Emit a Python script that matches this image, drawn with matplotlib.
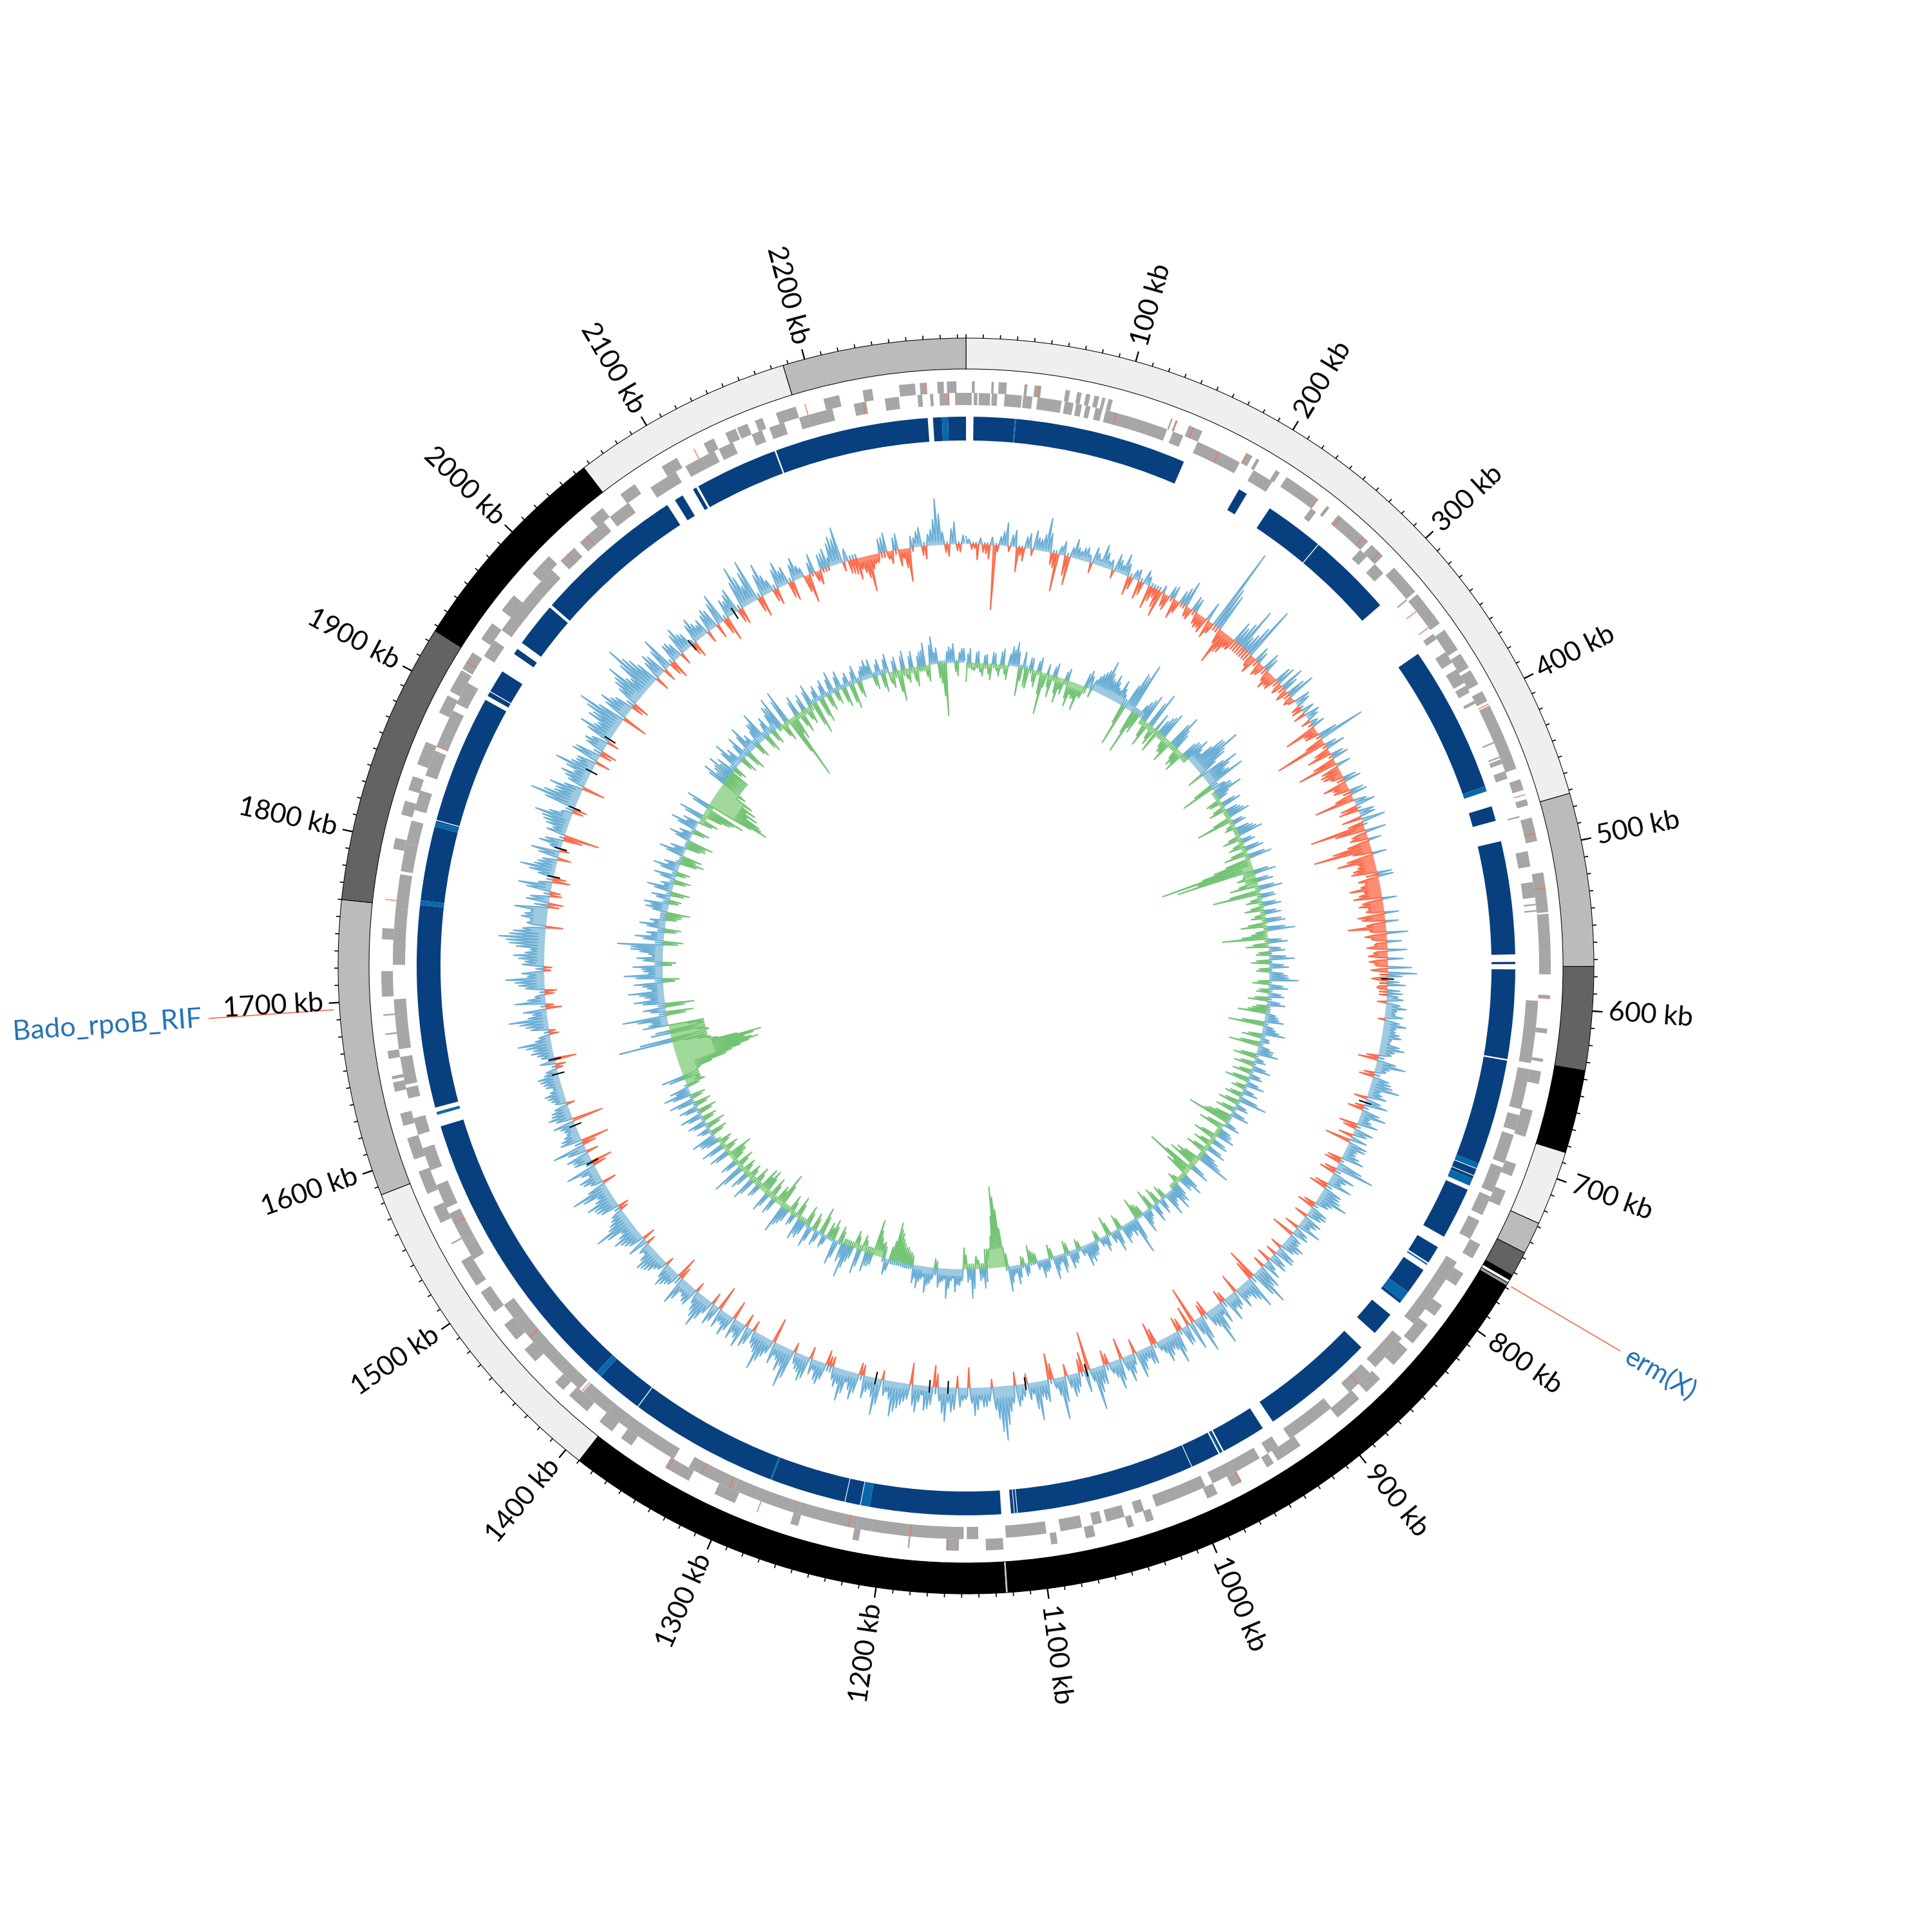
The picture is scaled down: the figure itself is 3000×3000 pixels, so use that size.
import numpy as np
import matplotlib
matplotlib.use("Agg")
import matplotlib.pyplot as plt

genome_kb = 2295

# contig bands on the outer ring (kb)
band_start = [0, 472, 574, 635, 684, 728, 747, 762, 765, 767, 769, 1123, 1124.5, 1390, 1585, 1760, 1927, 2056, 2187]
band_end = [472, 574, 635, 684, 728, 747, 762, 765, 767, 769, 1123, 1124.5, 1390, 1585, 1760, 1927, 2056, 2187, 2295]
band_grey = ["#efefef", "#bbbbbb", "#636363", "#000000", "#efefef", "#bbbbbb", "#636363", "#000000", "#ffffff",
             "#999999", "#000000", "#cccccc", "#000000", "#efefef", "#bbbbbb", "#636363", "#000000", "#efefef", "#bbbbbb"]

tick_labels = list(range(100, 2201, 100))

# gene blocks, outer strand (kb)
genes_out = [(3.7,5.5),(16,17.5),(20.5,25.6),(36.7,38.5),(43,47.3),(62.6,65.5),(70,72.8),(75.6,78.4),(81,84),(86,88),(90,92.7),
             (131,132),(134,135),(143,152),(183,187),(190,192),(204,207),(212,236),(243,245),(252,277),(280,290),(300,320),
             (322,345),(350,365),(368,378),(380,390),(395,402),(405,448),(455,462),(468,472),(480,495),(515,525),(525,540),
             (541,579),(592,594),(613,616),(632,634),(640,648),(665,682),(700,708),(718,728),(755,765),(776,785),(800,808),
             (815,830),(835,848),(860,872),(878,896),(925,935),(935,942),(945,950),(968,975),(985,992),(1028,1033),(1041,1045),
             (1066,1072),(1090,1094),(1124,1135),(1152,1160),(1183,1184),(1215,1219),(1254,1259),(1296,1310),(1328,1345),
             (1370,1378),(1385,1395),(1405,1420),(1425,1432),(1450,1460),(1468,1480),(1490,1505),(1510,1528),(1540,1541),
             (1555,1566),(1575,1590),(1598,1612),(1620,1628),(1642,1648),(1650,1652),(1663,1668),(1678,1679),(1690,1691),
             (1702,1718),(1738,1745),(1795,1802),(1817,1826),(1833,1842),(1850,1865),(1885,1897),(1900,1915),(1916,1928),
             (1938,1950),(1960,1972),(1990,2005),(2040,2050),(2064,2075),(2095,2106),(2125,2132),(2140,2147),(2148,2155),
             (2160,2165),(2174,2180),(2180,2187),(2205,2215),(2230,2236),(2253,2263),(2266,2270),(2277,2281),(2283,2289)]

# gene blocks, inner strand (kb)
genes_in = [(0,3.7),(5,7.3),(8.2,15.5),(16.5,20),(24.7,35.7),(36.6,42.5),(45.8,61.3),(63.4,69),(70.8,74.5),(77,80),(83.4,87.8),
            (90,131),(135,142),(152,182),(192,206),(236,240),(277,283),(290,298),(320,321),(348,352),(362,370),(375,385),
            (387,392),(398,400),(427,428),(437,438),(439,442),(447,452),(477,478),(500,510),(520,530),(534,535),(538,539),
            (596,636),(640,666),(670,680),(683,702),(705,722),(725,738),(742,755),(772,792),(792,808),(805,820),(832,846),
            (845,857),(862,880),(895,928),(937,945),(951,970),(970,985),(990,1024),(1032,1038),(1045,1057),(1060,1066),
            (1073,1087),(1096,1122),(1140,1147),(1149,1208),(1208,1218),(1218,1242),(1240,1256),(1256,1285),(1285,1300),
            (1300,1322),(1320,1332),(1343,1362),(1362,1382),(1382,1395),(1395,1415),(1418,1435),(1435,1450),(1448,1458),
            (1455,1478),(1478,1490),(1525,1538),(1538,1558),(1562,1578),(1588,1603),(1612,1623),(1636,1643),(1645,1663),
            (1668,1690),(1690,1700),(1722,1735),(1732,1758),(1758,1780),(1782,1800),(1800,1815),(1822,1835),(1845,1862),
            (1865,1890),(1895,1910),(1930,1942),(1950,1968),(1965,1982),(1982,2000),(2008,2020),(2025,2045),(2050,2065),
            (2082,2088),(2088,2101),(2108,2120),(2120,2129),(2132,2142),(2155,2162),(2167,2177),(2187,2193),(2193,2209),
            (2223,2231),(2243,2252),(2264,2267),(2272,2274),(2278,2284),(2288,2295)]

# resistance / flagged genes (kb)
red_out = [46, 135, 146, 183, 236, 254, 273, 287, 404, 465, 490, 525, 594, 969, 1159, 1281, 1343, 1763, 1921, 2118, 2193, 2270]
red_in = [97, 167, 330, 343, 872, 1140, 1183, 1223, 1303, 1323, 1416, 1464, 1551, 1865, 2014, 2031, 2229, 2284]

# BLAST hit blocks (kb)
hits_dark = [(5,32.6),(33.4,149),(190,196),(214,254),(254.6,312),(353,452),(466,476),(490,566),(571,572.5),(576,636),(637,708),
             (712,716.5),(717,719),(727,762),(770,782),(788,806),(813,815),(825,841),(854,931),(939,969),(970,972),
             (973,992.5),(993,1113),(1113.5,1115),(1115.5,1117.5),(1124,1212),(1218.5,1228.5),(1229,1279.5),(1280.5,1381),
             (1381.6,1413),(1417,1613),(1626,1762),(1765,1815),(1818,1819),(1819.6,1906),(1909,1912),(1912.6,1928),
             (1942,1946),(1951,1981),(1983,2085),(2091,2097),(2105,2107.5),(2109,2165),(2166,2269.5),(2273,2279),(2283,2295)]
hits_mid = [(32.6,33.4),(452,455.5),(708,711.5),(719,724),(783,784),(806,813),(971,972),(1212,1218),(1279.5,1280.5),
            (1413,1417),(1621,1623),(1762,1765),(1815,1818),(2279,2283)]

# track 1: main spike every 5 kb, radial offset from its baseline
track1 = [12,-8,-24,-12,-22,-100,14,36,18,-38,
          -20,24,30,18,53,-18,-58,22,-44,30,
          14,22,-15,18,35,12,-12,20,33,-29,
          15,-28,22,-36,-14,-41,-20,18,-31,20,
          41,-18,22,-22,-25,-28,133,60,-56,-32,
          -20,28,68,30,85,-28,18,-18,22,-28,
          -22,30,38,-20,44,-10,22,-16,-19,18,
          12,-51,-22,74,-82,30,-38,26,-63,-28,
          -30,20,-38,-25,26,-63,31,-30,24,37,
          -86,32,-28,-35,-91,22,-58,-28,-40,24,
          -22,-48,-35,22,-38,-28,-42,20,-59,33,
          -24,-20,30,-30,-29,37,45,-25,28,20,
          18,-14,32,16,-10,35,20,30,14,38,
          20,-30,46,18,-22,30,46,22,-20,36,
          -24,40,20,-28,30,-22,-40,29,18,35,
          -25,61,-24,25,39,-27,30,48,22,-26,
          30,-20,25,38,22,-36,20,28,-18,32,
          25,-22,30,38,60,-48,52,30,22,-29,
          28,40,-20,18,62,25,-18,57,-58,-30,
          30,-22,49,22,38,15,-35,28,20,42,
          18,41,-32,46,18,-22,28,66,-60,-30,
          22,35,-18,66,16,-41,30,60,18,-15,
          25,-20,40,84,50,-12,30,20,43,-31,
          20,-18,38,53,22,-33,35,15,42,-33,
          28,40,54,18,-14,57,20,35,-18,42,
          18,49,30,-15,-22,35,16,-18,40,25,
          -14,62,40,20,-38,30,55,25,-16,32,
          38,20,-29,35,18,-38,34,22,51,30,
          -15,28,18,45,-33,25,35,-12,20,32,
          38,15,-14,-20,30,42,22,61,30,20,
          -16,35,45,22,59,-21,30,15,48,-32,
          28,-18,52,-43,30,18,24,-48,36,28,
          -12,22,30,14,26,33,18,-15,-34,25,
          30,52,18,-10,35,60,22,-24,48,16,
          -18,40,60,35,-12,30,48,22,55,72,
          50,-26,25,35,52,-22,30,-15,52,-27,
          25,55,30,-20,45,18,28,-55,22,40,
          57,18,-20,75,40,52,-35,35,25,60,
          30,-22,40,-24,35,-18,55,30,45,75,
          -40,50,30,-25,45,65,30,82,50,-22,
          40,-20,53,-29,30,-18,42,25,-25,38,
          20,-18,35,-22,48,-38,25,40,-25,67,
          30,67,-32,51,20,-25,40,28,-30,35,
          15,-44,30,-22,25,15,45,57,20,-22,
          -33,-25,-56,-15,22,30,-20,25,-15,-52,
          15,30,-20,25,72,20,-18,35,-12]

# track 1: smaller spikes between the main ones
track1_mid = [8,-6,10,-14,12,-10,22,-8,26,-12,
              18,-10,20,26,30,-22,14,-30,16,18,
              20,12,26,10,24,16,28,14,20,-18,
              18,-20,14,-22,-28,12,-24,20,-20,28,
              -16,24,-18,-20,30,-18,70,-24,-34,-20,
              34,40,22,48,-20,24,-22,28,-18,-20,
              26,-18,24,30,-16,26,-14,20,24,-14,
              20,-22,30,-30,18,-24,20,-36,22,-32,
              -20,26,-24,22,-28,20,-26,24,-30,-24,
              -48,-24,20,-60,-30,-42,-26,-36,22,-32,
              -30,-26,-44,-32,-24,22,-36,-30,-26,-34,
              22,-32,-22,24,-20,-26,22,18,-16,24,
              26,22,18,28,24,20,26,16,30,24,
              -18,30,22,-16,26,34,18,30,24,-14,
              28,16,32,-20,22,26,30,18,26,-22,
              40,-18,36,20,-20,30,34,26,-18,28,
              24,30,18,-22,26,20,32,22,30,-16,
              30,18,-18,34,42,-30,36,22,34,24,
              22,-14,34,42,30,-22,38,26,44,28,
              -18,34,26,30,22,-24,30,18,32,-22,
              30,22,34,26,-16,30,40,20,34,-20,
              30,20,40,28,-24,34,24,42,26,20,
              34,28,60,70,36,22,30,34,24,18,
              30,34,24,40,-20,28,38,26,32,24,
              34,46,28,24,40,30,24,-16,30,28,
              36,24,20,-14,26,30,24,34,28,18,
              46,30,24,34,22,40,30,20,26,-20,
              26,32,24,20,30,26,-18,36,38,20,
              30,22,34,-18,22,30,24,16,28,34,
              26,20,32,24,34,30,44,36,24,-12,
              30,36,28,44,30,20,34,26,-20,28,
              36,30,-20,34,24,20,34,26,30,22,
              18,26,20,24,30,22,-10,24,20,34,
              40,24,-14,28,44,30,36,-12,28,-14,
              30,46,26,-10,34,40,30,44,60,56,
              36,30,40,26,-16,36,-18,38,22,-20,
              40,34,24,32,-14,36,-30,30,34,44,
              36,-16,50,56,40,30,28,44,40,36,
              30,44,-18,30,26,40,34,50,60,44,
              38,36,-18,34,50,36,56,60,36,30,
              34,36,-20,30,24,34,28,-18,30,26,
              26,28,30,36,-24,30,34,-20,44,48,
              50,-22,36,30,-18,30,24,-24,26,20,
              -26,18,-16,24,30,36,40,-14,-20,-24,
              -18,-34,-22,-14,24,-12,20,-26,-30,18,
              24,-14,18,40,48,-12,24,-10,14]

# track 1: thickness of the filled band, per 25 kb
track1_band = [3,3,5,5,8,6,6,-5,-6,-8,-14,-10,-10,6,-6,-5,-12,6,-14,-18,-20,-20,-16,-12,
               10,11,10,8,7,6,10,8,8,8,7,11,11,8,8,7,10,7,7,8,18,11,11,8,
               10,8,10,8,10,8,8,10,13,10,10,10,10,11,13,10,10,7,8,8,13,11,22,10,
               7,7,13,10,13,10,13,8,7,7,7,8,8,7,-5,7,-8,-6,6,4]

# track 2: main spike every 5 kb
track2 = [-29,22,-12,18,-20,14,-25,16,-18,25,
          -22,30,38,-44,25,-30,18,-25,22,-65,
          15,-35,20,-40,-25,18,-40,-25,-41,-20,
          28,-12,25,35,56,30,40,22,38,18,
          -65,63,82,-68,-30,30,45,-40,58,-30,
          -38,30,42,-25,-37,53,25,-30,-35,30,
          40,20,60,81,50,-25,62,35,62,-53,
          30,44,15,-20,30,-28,22,33,-59,20,
          -18,25,38,-30,20,-25,28,-38,36,-60,
          -147,-123,33,-30,25,-45,36,-75,22,-25,
          28,-30,25,-22,30,-40,43,-25,-71,30,
          -35,25,-20,39,-28,30,-20,28,45,-25,
          30,-18,25,-30,28,-22,-43,20,30,-55,
          20,36,-30,15,-47,25,34,-35,18,-30,
          30,-28,22,-35,30,-20,25,-25,46,-30,
          22,-28,30,-35,-65,25,-40,20,28,-38,
          25,-30,30,-35,28,52,-40,-48,30,-79,
          -40,35,22,-20,30,38,20,38,-20,25,
          -25,30,-30,18,35,-18,-32,58,25,20,
          30,-22,35,18,-29,25,14,-15,22,30,
          34,15,-14,22,28,-18,30,15,36,-20,
          20,28,14,-15,-27,20,-12,30,15,39,
          -30,-90,-126,-50,-15,30,18,-20,45,20,
          -33,25,35,18,46,20,30,-14,25,40,
          20,35,28,-18,-25,-30,-45,-60,-20,25,
          -25,-30,-56,20,30,-25,38,-28,25,52,
          30,-25,40,-30,-22,22,-41,25,-25,35,
          -30,28,34,-35,18,-30,25,44,-56,-30,
          25,-35,30,-40,-38,20,-30,36,-25,28,
          -25,49,-30,25,-28,-41,30,-25,35,-22,
          28,39,-25,22,-29,30,-22,35,-28,30,
          -25,40,-22,43,30,-30,-18,35,-30,-75,
          -100,-130,-110,-138,-70,-40,84,-60,30,-45,
          40,25,69,-42,35,-45,48,30,55,25,
          45,-25,60,30,46,-20,40,22,50,71,
          -30,45,28,-25,40,25,-22,-35,35,39,
          -18,30,-28,40,20,-25,35,-20,40,25,
          -36,-30,40,25,-30,-39,35,22,-25,42,
          25,-30,38,-45,-65,37,-101,-85,-77,-70,
          -60,-43,39,25,40,30,-20,45,28,-25,
          38,-30,45,25,-22,35,48,-27,30,-22,
          40,50,-30,52,-104,-40,30,-35,25,-28,
          34,-51,25,-38,28,-25,35,-20,30,-30,
          22,-38,28,-25,22,30,29,-20,25,-28,
          30,-25,22,-48,28,-22,25,-30,22,35,
          -25,43,25,-30,-81,25,30,-20,22]

# track 2: smaller spikes between the main ones
track2_mid = [14,-10,16,-14,12,-16,18,-10,20,-14,
              18,26,24,-20,-28,18,-18,16,-34,-22,
              -20,14,-26,-18,12,-28,-20,-24,-18,22,
              20,18,30,40,38,28,30,20,26,-30,
              40,60,-36,-24,22,36,-26,40,-22,28,
              22,34,-18,-24,38,32,-20,-24,24,30,
              26,40,60,54,30,40,46,40,-30,22,
              30,20,-24,22,-20,18,26,-30,16,-14,
              20,30,-20,16,-18,22,-26,26,-40,-80,
              -90,22,-20,18,-30,24,-48,20,-18,20,
              -20,18,-16,24,-28,28,-18,-40,20,-24,
              18,-16,26,-20,22,-16,22,30,-18,22,
              -14,20,-20,20,-16,-28,16,22,-34,16,
              26,-20,14,-30,18,24,-24,14,-20,22,
              -18,18,-24,20,-14,18,-18,30,-20,18,
              -20,22,-24,-40,18,-28,16,20,-26,20,
              -20,22,-24,20,36,-28,-32,20,-50,-30,
              24,18,-14,20,26,16,26,-14,18,-18,
              20,-20,14,24,-14,-20,36,18,16,22,
              -16,24,14,-18,18,12,-12,16,22,24,
              12,-10,16,20,-14,22,12,24,-14,16,
              20,10,-12,-18,16,-10,20,12,26,-20,
              -60,-110,-80,-30,20,14,-14,30,16,-22,
              18,24,14,30,16,22,-10,18,28,16,
              24,20,-14,-20,-24,-36,-50,-30,18,-18,
              -22,-40,16,20,-18,26,-20,18,36,22,
              -18,28,-20,-16,16,-28,18,-18,24,-20,
              20,24,-24,14,-20,18,30,-38,-24,18,
              -24,20,-28,-26,16,-20,26,-18,20,-18,
              34,-20,18,-20,-28,22,-18,24,-16,20,
              28,-18,16,-20,22,-16,24,-20,22,-18,
              28,-16,30,22,-20,-14,24,-22,-50,-85,
              -115,-120,-125,-100,-55,-20,50,-42,22,-30,
              30,46,-30,24,-30,34,22,38,18,32,
              -18,42,22,32,-14,30,16,36,50,-22,
              32,20,-18,28,18,-16,-24,24,28,-14,
              22,-20,28,14,-18,24,-14,28,18,-26,
              -22,28,18,-22,-28,24,16,-18,30,18,
              -22,28,-32,-50,26,-75,-90,-60,-55,-45,
              -30,28,18,28,22,-14,32,20,-18,26,
              -22,32,18,-16,24,34,-20,22,-16,28,
              36,-22,38,-60,-30,22,-24,18,-20,24,
              -36,18,-28,20,-18,24,-14,22,-22,16,
              -28,20,-18,16,22,20,-14,18,-20,22,
              -18,16,-34,20,-16,18,-22,16,24,-18,
              30,18,-22,-50,18,22,-14,16,22]

# track 2: thickness of the filled band, per 25 kb
track2_band = [-8,-6,4,-5,-8,-10,11,12,9,-8,-8,-8,10,12,-5,-6,-6,-6,-18,-6,-6,-5,4,4,
               6,6,6,4,4,4,4,-6,-6,-8,-6,4,4,4,4,4,6,4,4,6,-30,-8,11,11,
               7,6,-10,-8,4,4,-6,-8,-8,-8,-6,-6,4,4,4,-25,-60,-55,11,10,12,13,11,10,
               7,7,4,4,-8,-45,-30,9,11,10,-6,-8,6,6,7,7,-10,-8,4,4]

# dark flecks on track 1 (kb)
fleck_kb = [585, 694, 1042, 1096, 1163, 1179, 1226, 1545, 1580, 1627, 1640, 1799, 1824, 1861, 1896, 1928, 2037, 2083]


def to_theta(kb):
    return 2 * np.pi * np.asarray(kb, dtype=float) / genome_kb


def draw_blocks(ax, blocks, r0, r1, colour):
    blocks = np.array(blocks)
    mid = blocks.mean(axis=1)
    ax.bar(to_theta(mid), r1 - r0, width=to_theta(blocks[:, 1] - blocks[:, 0]), bottom=r0,
           color=colour, linewidth=0, align="center")


def split_signs(x, y):
    # add a point wherever the profile crosses the baseline
    xs, ys = [], []
    for i in range(len(x) - 1):
        xs.append(x[i])
        ys.append(y[i])
        if y[i] * y[i + 1] < 0:
            xs.append(x[i] + (x[i + 1] - x[i]) * y[i] / (y[i] - y[i + 1]))
            ys.append(0.0)
    xs.append(x[-1])
    ys.append(y[-1])
    return np.array(xs), np.array(ys)


def draw_track(ax, main, mid, band, base, line_neg, fill_neg):
    xs, ys = [], []
    for i in range(len(main)):
        floor = band[min(i // 5, len(band) - 1)]
        x0 = i * 5.0
        xs += [x0, x0 + 1.25, x0 + 2.5, x0 + 3.75]
        ys += [main[i], floor, mid[i], floor]
    x, y = split_signs(np.array(xs), np.array(ys, dtype=float))
    th = to_theta(x)
    pos = np.where(y >= 0, y, np.nan)
    neg = np.where(y <= 0, y, np.nan)
    ax.fill_between(th, base, base + pos, color="#9ecae1", lw=0)
    ax.fill_between(th, base, base + neg, color=fill_neg, lw=0)
    ax.plot(th, base + pos, color="#6baed6", lw=0.48)
    ax.plot(th, base + neg, color=line_neg, lw=0.48)


fig = plt.figure(figsize=(10, 10), dpi=300)
ax = fig.add_axes([0, 0, 1, 1], projection="polar")
ax.set_theta_zero_location("N")
ax.set_theta_direction(-1)
ax.set_rlim(0, 1500)
ax.axis("off")

# contig ring
starts = np.array(band_start)
ends = np.array(band_end)
ax.bar(to_theta((starts + ends) / 2), 48, width=to_theta(ends - starts), bottom=927,
       color=band_grey, edgecolor="black", linewidth=0.25)

# ticks and labels
minor = np.arange(0, genome_kb, 10)
ax.vlines(to_theta(minor), 975, 981, color="black", lw=0.4)
major = np.array(tick_labels)
ax.vlines(to_theta(major), 975, 991, color="black", lw=0.55)
for kb in tick_labels:
    deg = 360.0 * kb / genome_kb
    if deg < 180:
        rot, ha = 90 - deg, "left"
    else:
        rot, ha = 270 - deg, "right"
    ax.text(to_theta(kb), 1000, f"{kb} kb", rotation=rot, rotation_mode="anchor", ha=ha, va="center",
            family="Lato", fontsize=10.3, color="black")

# genes
draw_blocks(ax, genes_out, 890, 908, "#a6a6a6")
draw_blocks(ax, genes_in, 871, 890, "#a6a6a6")
ax.vlines(to_theta(red_out), 890, 908, color="#fb6a4a", lw=0.3)
ax.vlines(to_theta(red_in), 871, 890, color="#fb6a4a", lw=0.3)

# hits
draw_blocks(ax, hits_dark, 816, 853, "#08407f")
draw_blocks(ax, hits_mid, 816, 853, "#0868ac")

# profiles
draw_track(ax, track1, track1_mid, track1_band, 655, "#fb6a4a", "#fc8d72")
draw_track(ax, track2, track2_mid, track2_band, 471, "#74c476", "#a1d99b")
ax.vlines(to_theta(fleck_kb), 645, 665, color="black", lw=0.5)

# annotated genes
ax.plot(to_theta([768, 768]), [983, 1178], color="#fb6a4a", lw=0.4)
ax.plot(to_theta([1696, 1696]), [985, 1178], color="#fb6a4a", lw=0.4)
ax.text(to_theta(768), 1190, "erm(X)", rotation=-30, rotation_mode="anchor", ha="left", va="center",
        family="Lato", fontsize=10, color="#2171b5")
ax.text(to_theta(1696), 1190, "Bado_rpoB_RIF", rotation=4, rotation_mode="anchor", ha="right", va="center",
        family="Lato", fontsize=10.4, color="#2171b5")

fig.savefig("out.png", dpi=300)
